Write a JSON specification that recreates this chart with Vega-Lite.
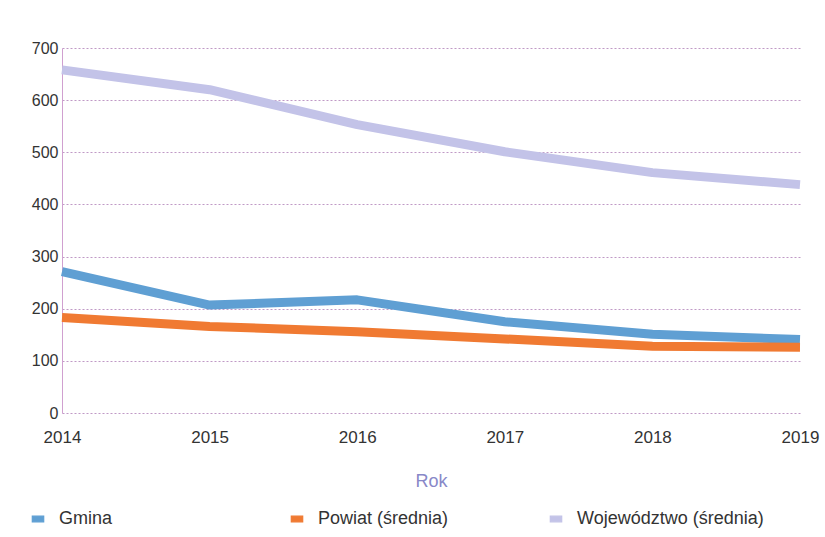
{
  "$schema": "https://vega.github.io/schema/vega-lite/v6.json",
  "width": 738,
  "height": 365,
  "autosize": "none",
  "padding": {"left": 62, "top": 48, "right": 25, "bottom": 124},
  "background": "white",
  "config": {
    "view": {"stroke": null},
    "font": "Liberation Sans"
  },
  "data": {
    "values": [
      {"Rok": 2014, "Seria": "Gmina", "Wartosc": 271},
      {"Rok": 2015, "Seria": "Gmina", "Wartosc": 207},
      {"Rok": 2016, "Seria": "Gmina", "Wartosc": 217},
      {"Rok": 2017, "Seria": "Gmina", "Wartosc": 175},
      {"Rok": 2018, "Seria": "Gmina", "Wartosc": 151},
      {"Rok": 2019, "Seria": "Gmina", "Wartosc": 141},
      {"Rok": 2014, "Seria": "Powiat (średnia)", "Wartosc": 183},
      {"Rok": 2015, "Seria": "Powiat (średnia)", "Wartosc": 166},
      {"Rok": 2016, "Seria": "Powiat (średnia)", "Wartosc": 156},
      {"Rok": 2017, "Seria": "Powiat (średnia)", "Wartosc": 142},
      {"Rok": 2018, "Seria": "Powiat (średnia)", "Wartosc": 128},
      {"Rok": 2019, "Seria": "Powiat (średnia)", "Wartosc": 126},
      {"Rok": 2014, "Seria": "Województwo (średnia)", "Wartosc": 658},
      {"Rok": 2015, "Seria": "Województwo (średnia)", "Wartosc": 620},
      {"Rok": 2016, "Seria": "Województwo (średnia)", "Wartosc": 553},
      {"Rok": 2017, "Seria": "Województwo (średnia)", "Wartosc": 501},
      {"Rok": 2018, "Seria": "Województwo (średnia)", "Wartosc": 461},
      {"Rok": 2019, "Seria": "Województwo (średnia)", "Wartosc": 438}
    ]
  },
  "mark": {"type": "line", "strokeWidth": 9, "strokeJoin": "round"},
  "encoding": {
    "x": {
      "field": "Rok",
      "type": "quantitative",
      "scale": {"domain": [2014, 2019], "nice": false, "zero": false},
      "axis": {
        "title": "Rok",
        "format": "d",
        "values": [2014, 2015, 2016, 2017, 2018, 2019],
        "labelOverlap": false,
        "labelFlush": false,
        "grid": false,
        "domain": false,
        "ticks": false,
        "labelFontSize": 17,
        "labelColor": "#333333",
        "labelPadding": 16,
        "titleFontSize": 18,
        "titleFontWeight": "normal",
        "titleColor": "#8888c8",
        "titlePadding": 27
      }
    },
    "y": {
      "field": "Wartosc",
      "type": "quantitative",
      "scale": {"domain": [0, 700], "nice": false},
      "axis": {
        "title": null,
        "values": [0, 100, 200, 300, 400, 500, 600, 700],
        "grid": true,
        "gridColor": "#b080b8",
        "gridDash": [2, 2],
        "gridOpacity": 0.8,
        "domain": true,
        "domainColor": "#d0a0d0",
        "ticks": false,
        "labelFontSize": 16,
        "labelColor": "#333333",
        "labelPadding": 4
      }
    },
    "color": {
      "field": "Seria",
      "type": "nominal",
      "scale": {
        "domain": ["Gmina", "Powiat (średnia)", "Województwo (średnia)"],
        "range": ["#5f9fd3", "#f07a32", "#c3c3e8"]
      },
      "legend": {
        "title": null,
        "orient": "none",
        "legendX": -33,
        "legendY": 462,
        "direction": "horizontal",
        "columns": 3,
        "gridAlign": "all",
        "columnPadding": 42,
        "labelFontSize": 18,
        "labelColor": "#333333",
        "labelOffset": 12,
        "labelLimit": 300,
        "symbolType": "M-1,-0.5H1V0.5H-1Z",
        "symbolSize": 130,
        "encode": {
          "symbols": {
            "update": {
              "fill": {"scale": "color", "field": "value"},
              "fillOpacity": {"value": 1},
              "stroke": {"value": "#4a6a90"},
              "strokeWidth": {"value": 1.2}
            }
          }
        }
      }
    }
  }
}
